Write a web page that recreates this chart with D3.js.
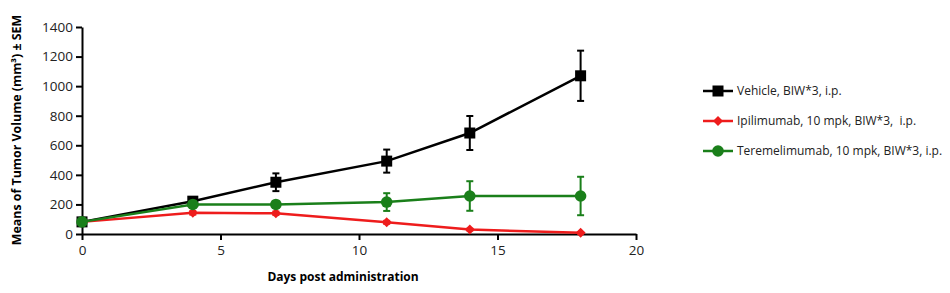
<!DOCTYPE html>
<html>
<head>
<meta charset="utf-8">
<script src="https://cdn.jsdelivr.net/npm/d3@7"></script>
<style>
  body { margin: 0; background: #fff; }
  text { font-family: "Open Sans", sans-serif; }
</style>
</head>
<body>
<div id="chart"></div>
<script>
'use strict';

// Data
const days = [0, 4, 7, 11, 14, 18];
const vehicleMean = [82, 222, 350, 493, 683, 1070];
const vehicleSem = [12, 25, 60, 78, 115, 170];
const ipiMean = [82, 143, 140, 79, 30, 8];
const ipiSem = [8, 12, 12, 10, 6, 4];
const tereMean = [82, 200, 200, 216, 257, 257];
const tereSem = [10, 15, 18, 60, 100, 130];
const xTicks = [0, 5, 10, 15, 20];
const yTicks = [0, 200, 400, 600, 800, 1000, 1200, 1400];

const seriesNames = ['Vehicle, BIW*3, i.p.', 'Ipilimumab, 10 mpk, BIW*3,  i.p.', 'Teremelimumab, 10 mpk, BIW*3, i.p.'];
const seriesColors = ['#000000', '#ee1c1c', '#1a7f1a'];
const seriesShapes = ['square', 'diamond', 'circle'];

const width = 950, height = 293;
const margin = {left: 82, top: 27, right: 314, bottom: 59};

const series = [vehicleMean, ipiMean, tereMean].map((m, i) => ({
    name: seriesNames[i],
    color: seriesColors[i],
    shape: seriesShapes[i],
    points: days.map((d, j) => ({day: d, mean: m[j], sem: [vehicleSem, ipiSem, tereSem][i][j]}))
}));

let svg = d3.select('#chart').append('svg')
    .attr('width', width).attr('height', height);

let x = d3.scaleLinear().domain([0, 20]).range([margin.left, width - margin.right]);
let y = d3.scaleLinear().domain([0, 1400]).range([height - margin.bottom, margin.top]);

// Axes
let xAxis = svg.append('g')
    .attr('transform', `translate(0,${height - margin.bottom})`)
    .call(d3.axisBottom(x).tickValues(xTicks).tickFormat(d3.format('d'))
        .tickSize(6).tickSizeOuter(0).tickPadding(5));
let yAxis = svg.append('g')
    .attr('transform', `translate(${margin.left},0)`)
    .call(d3.axisLeft(y).tickValues(yTicks).tickFormat(d3.format('d'))
        .tickSize(6).tickSizeOuter(0).tickPadding(3));

[xAxis, yAxis].forEach(a => {
    a.select('.domain').attr('stroke-width', 2);
    a.selectAll('.tick line').attr('stroke-width', 2);
    a.selectAll('.tick text').attr('font-size', 13.5).attr('fill', '#222')
        .style('font-family', '"Open Sans", sans-serif');
});

// Axis titles
svg.append('text')
    .attr('x', 343).attr('y', 281)
    .attr('text-anchor', 'middle')
    .attr('font-size', 12).attr('font-weight', 'bold')
    .text('Days post administration');

svg.append('text')
    .attr('transform', 'translate(21,130) rotate(-90)')
    .attr('text-anchor', 'middle')
    .attr('font-size', 12.4).attr('font-weight', 'bold')
    .text('Means of Tumor Volume (mm³) ± SEM');

// Marker drawing
function drawMarker(sel, shape, color, cx, cy) {
    if (shape === 'square') {
        sel.append('rect').attr('x', cx - 5.5).attr('y', cy - 5.5)
            .attr('width', 11).attr('height', 11).attr('fill', color);
    } else if (shape === 'circle') {
        sel.append('circle').attr('cx', cx).attr('cy', cy).attr('r', 5.8).attr('fill', color);
    } else {
        sel.append('path')
            .attr('d', `M${cx},${cy - 5}L${cx + 5},${cy}L${cx},${cy + 5}L${cx - 5},${cy}Z`)
            .attr('fill', color);
    }
}

let line = d3.line().x(d => x(d.day)).y(d => y(d.mean));

series.forEach(s => {
    let g = svg.append('g');
    // error bars
    s.points.forEach(p => {
        let top = y(p.mean + p.sem), bot = y(Math.max(0, p.mean - p.sem));
        g.append('line').attr('x1', x(p.day)).attr('x2', x(p.day))
            .attr('y1', top).attr('y2', bot)
            .attr('stroke', s.color).attr('stroke-width', 2);
        [top, bot].forEach(yy => g.append('line')
            .attr('x1', x(p.day) - 3.5).attr('x2', x(p.day) + 3.5)
            .attr('y1', yy).attr('y2', yy)
            .attr('stroke', s.color).attr('stroke-width', 2));
    });
    g.append('path').datum(s.points)
        .attr('d', line).attr('fill', 'none')
        .attr('stroke', s.color).attr('stroke-width', 2.5);
    s.points.forEach(p => drawMarker(g, s.shape, s.color, x(p.day), y(p.mean)));
});

// Legend
let legend = svg.append('g');
series.forEach((s, i) => {
    let ly = 91 + i * 30;
    legend.append('line').attr('x1', 703).attr('x2', 733).attr('y1', ly).attr('y2', ly)
        .attr('stroke', s.color).attr('stroke-width', 2.5);
    drawMarker(legend, s.shape, s.color, 718, ly);
    legend.append('text').attr('x', 737).attr('y', ly + 4)
        .attr('font-size', 12).attr('fill', '#222')
        .style('white-space', 'pre')
        .text(s.name);
});
</script>
</body>
</html>
